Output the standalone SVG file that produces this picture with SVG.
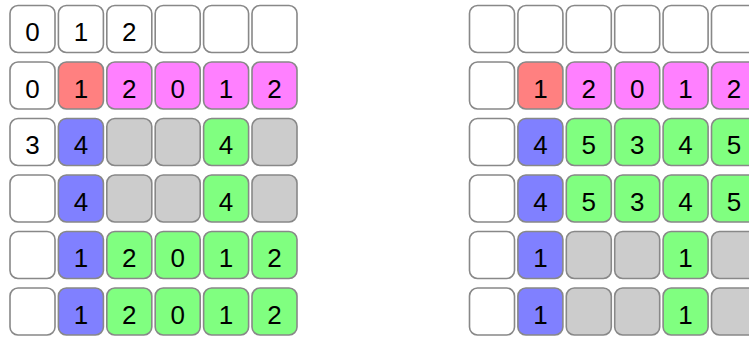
<svg xmlns="http://www.w3.org/2000/svg" width="749" height="337" viewBox="0 0 749 337">
<style>
rect{stroke:#888;stroke-width:1.6;rx:8;ry:8}
.w{fill:#fff}.r{fill:#ff8080}.m{fill:#ff80ff}.b{fill:#8080ff}.g{fill:#80ff80}.k{fill:#ccc}
text{font-family:"Liberation Sans",Arial,sans-serif;font-size:26px;fill:#000;text-anchor:middle}
</style>
<rect width="749" height="337" style="fill:#fff;stroke:none"/>
<g id="left">
<g id="L1a"><rect class="w" x="10" y="5.5" width="45" height="47"/><text x="32.5" y="41">0</text></g>
<g id="L1b"><rect class="w" x="58.4" y="5.5" width="45" height="47"/><text x="80.9" y="41">1</text></g>
<g id="L1c"><rect class="w" x="106.8" y="5.5" width="45" height="47"/><text x="129.3" y="41">2</text></g>
<g id="L1d"><rect class="w" x="155.2" y="5.5" width="45" height="47"/></g>
<g id="L1e"><rect class="w" x="203.6" y="5.5" width="45" height="47"/></g>
<g id="L1f"><rect class="w" x="252" y="5.5" width="45" height="47"/></g>

<g id="L2a"><rect class="w" x="10" y="62" width="45" height="47"/><text x="32.5" y="97.5">0</text></g>
<g id="L2b"><rect class="r" x="58.4" y="62" width="45" height="47"/><text x="80.9" y="97.5">1</text></g>
<g id="L2c"><rect class="m" x="106.8" y="62" width="45" height="47"/><text x="129.3" y="97.5">2</text></g>
<g id="L2d"><rect class="m" x="155.2" y="62" width="45" height="47"/><text x="177.7" y="97.5">0</text></g>
<g id="L2e"><rect class="m" x="203.6" y="62" width="45" height="47"/><text x="226.1" y="97.5">1</text></g>
<g id="L2f"><rect class="m" x="252" y="62" width="45" height="47"/><text x="274.5" y="97.5">2</text></g>

<g id="L3a"><rect class="w" x="10" y="118.5" width="45" height="47"/><text x="32.5" y="154">3</text></g>
<g id="L3b"><rect class="b" x="58.4" y="118.5" width="45" height="47"/><text x="80.9" y="154">4</text></g>
<g id="L3c"><rect class="k" x="106.8" y="118.5" width="45" height="47"/></g>
<g id="L3d"><rect class="k" x="155.2" y="118.5" width="45" height="47"/></g>
<g id="L3e"><rect class="g" x="203.6" y="118.5" width="45" height="47"/><text x="226.1" y="154">4</text></g>
<g id="L3f"><rect class="k" x="252" y="118.5" width="45" height="47"/></g>

<g id="L4a"><rect class="w" x="10" y="175" width="45" height="47"/></g>
<g id="L4b"><rect class="b" x="58.4" y="175" width="45" height="47"/><text x="80.9" y="210.5">4</text></g>
<g id="L4c"><rect class="k" x="106.8" y="175" width="45" height="47"/></g>
<g id="L4d"><rect class="k" x="155.2" y="175" width="45" height="47"/></g>
<g id="L4e"><rect class="g" x="203.6" y="175" width="45" height="47"/><text x="226.1" y="210.5">4</text></g>
<g id="L4f"><rect class="k" x="252" y="175" width="45" height="47"/></g>

<g id="L5a"><rect class="w" x="10" y="231.5" width="45" height="47"/></g>
<g id="L5b"><rect class="b" x="58.4" y="231.5" width="45" height="47"/><text x="80.9" y="267">1</text></g>
<g id="L5c"><rect class="g" x="106.8" y="231.5" width="45" height="47"/><text x="129.3" y="267">2</text></g>
<g id="L5d"><rect class="g" x="155.2" y="231.5" width="45" height="47"/><text x="177.7" y="267">0</text></g>
<g id="L5e"><rect class="g" x="203.6" y="231.5" width="45" height="47"/><text x="226.1" y="267">1</text></g>
<g id="L5f"><rect class="g" x="252" y="231.5" width="45" height="47"/><text x="274.5" y="267">2</text></g>

<g id="L6a"><rect class="w" x="10" y="288" width="45" height="47"/></g>
<g id="L6b"><rect class="b" x="58.4" y="288" width="45" height="47"/><text x="80.9" y="323.5">1</text></g>
<g id="L6c"><rect class="g" x="106.8" y="288" width="45" height="47"/><text x="129.3" y="323.5">2</text></g>
<g id="L6d"><rect class="g" x="155.2" y="288" width="45" height="47"/><text x="177.7" y="323.5">0</text></g>
<g id="L6e"><rect class="g" x="203.6" y="288" width="45" height="47"/><text x="226.1" y="323.5">1</text></g>
<g id="L6f"><rect class="g" x="252" y="288" width="45" height="47"/><text x="274.5" y="323.5">2</text></g>
</g>
<g id="right">
<g id="R1a"><rect class="w" x="469.5" y="5.5" width="45" height="47"/></g>
<g id="R1b"><rect class="w" x="517.9" y="5.5" width="45" height="47"/></g>
<g id="R1c"><rect class="w" x="566.3" y="5.5" width="45" height="47"/></g>
<g id="R1d"><rect class="w" x="614.7" y="5.5" width="45" height="47"/></g>
<g id="R1e"><rect class="w" x="663.1" y="5.5" width="45" height="47"/></g>
<g id="R1f"><rect class="w" x="711.5" y="5.5" width="45" height="47"/></g>

<g id="R2a"><rect class="w" x="469.5" y="62" width="45" height="47"/></g>
<g id="R2b"><rect class="r" x="517.9" y="62" width="45" height="47"/><text x="540.4" y="97.5">1</text></g>
<g id="R2c"><rect class="m" x="566.3" y="62" width="45" height="47"/><text x="588.8" y="97.5">2</text></g>
<g id="R2d"><rect class="m" x="614.7" y="62" width="45" height="47"/><text x="637.2" y="97.5">0</text></g>
<g id="R2e"><rect class="m" x="663.1" y="62" width="45" height="47"/><text x="685.6" y="97.5">1</text></g>
<g id="R2f"><rect class="m" x="711.5" y="62" width="45" height="47"/><text x="734" y="97.5">2</text></g>

<g id="R3a"><rect class="w" x="469.5" y="118.5" width="45" height="47"/></g>
<g id="R3b"><rect class="b" x="517.9" y="118.5" width="45" height="47"/><text x="540.4" y="154">4</text></g>
<g id="R3c"><rect class="g" x="566.3" y="118.5" width="45" height="47"/><text x="588.8" y="154">5</text></g>
<g id="R3d"><rect class="g" x="614.7" y="118.5" width="45" height="47"/><text x="637.2" y="154">3</text></g>
<g id="R3e"><rect class="g" x="663.1" y="118.5" width="45" height="47"/><text x="685.6" y="154">4</text></g>
<g id="R3f"><rect class="g" x="711.5" y="118.5" width="45" height="47"/><text x="734" y="154">5</text></g>

<g id="R4a"><rect class="w" x="469.5" y="175" width="45" height="47"/></g>
<g id="R4b"><rect class="b" x="517.9" y="175" width="45" height="47"/><text x="540.4" y="210.5">4</text></g>
<g id="R4c"><rect class="g" x="566.3" y="175" width="45" height="47"/><text x="588.8" y="210.5">5</text></g>
<g id="R4d"><rect class="g" x="614.7" y="175" width="45" height="47"/><text x="637.2" y="210.5">3</text></g>
<g id="R4e"><rect class="g" x="663.1" y="175" width="45" height="47"/><text x="685.6" y="210.5">4</text></g>
<g id="R4f"><rect class="g" x="711.5" y="175" width="45" height="47"/><text x="734" y="210.5">5</text></g>

<g id="R5a"><rect class="w" x="469.5" y="231.5" width="45" height="47"/></g>
<g id="R5b"><rect class="b" x="517.9" y="231.5" width="45" height="47"/><text x="540.4" y="267">1</text></g>
<g id="R5c"><rect class="k" x="566.3" y="231.5" width="45" height="47"/></g>
<g id="R5d"><rect class="k" x="614.7" y="231.5" width="45" height="47"/></g>
<g id="R5e"><rect class="g" x="663.1" y="231.5" width="45" height="47"/><text x="685.6" y="267">1</text></g>
<g id="R5f"><rect class="k" x="711.5" y="231.5" width="45" height="47"/></g>

<g id="R6a"><rect class="w" x="469.5" y="288" width="45" height="47"/></g>
<g id="R6b"><rect class="b" x="517.9" y="288" width="45" height="47"/><text x="540.4" y="323.5">1</text></g>
<g id="R6c"><rect class="k" x="566.3" y="288" width="45" height="47"/></g>
<g id="R6d"><rect class="k" x="614.7" y="288" width="45" height="47"/></g>
<g id="R6e"><rect class="g" x="663.1" y="288" width="45" height="47"/><text x="685.6" y="323.5">1</text></g>
<g id="R6f"><rect class="k" x="711.5" y="288" width="45" height="47"/></g>
</g>
</svg>
